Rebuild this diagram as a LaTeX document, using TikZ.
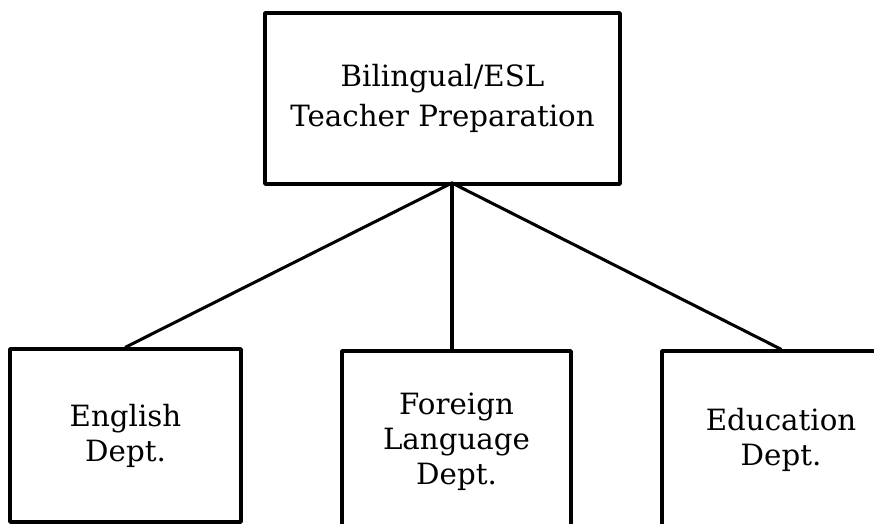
\documentclass[tikz,border=0pt]{standalone}
\usepackage{fontspec}
\setmainfont{DejaVu Serif}
\begin{document}
\begin{tikzpicture}[x=0.03cm,y=-0.03cm,line join=round,line cap=round,font=\fontsize{25}{30}\selectfont,
	box/.style={draw,line width=3pt,align=center,inner sep=0pt},
	link/.style={line width=2.6pt}]
	\useasboundingbox (0,0) rectangle (874,523);
	\clip (0,0) rectangle (874,523);
	\node[box,minimum width=10.65cm,minimum height=5.13cm,font=\fontsize{25}{34}\selectfont] (prep) at (442.5,98.5) {Bilingual/ESL\\Teacher Preparation};
	\node[box,minimum width=6.93cm,minimum height=5.19cm] (eng) at (125.5,435.5) {English\\Dept.};
	\node[box,minimum width=6.87cm,minimum height=5.46cm] (lang) at (456.5,442) {Foreign\\Language\\Dept.};
	\node[box,minimum width=7.14cm,minimum height=5.34cm] (edu) at (781,440) {Education\\Dept.};
	\coordinate (apex) at (452,183);
	\draw[link] (apex) -- (eng.north);
	\draw[link] (apex) -- (apex |- lang.north);
	\draw[link] (apex) -- (edu.north);
\end{tikzpicture}
\end{document}
